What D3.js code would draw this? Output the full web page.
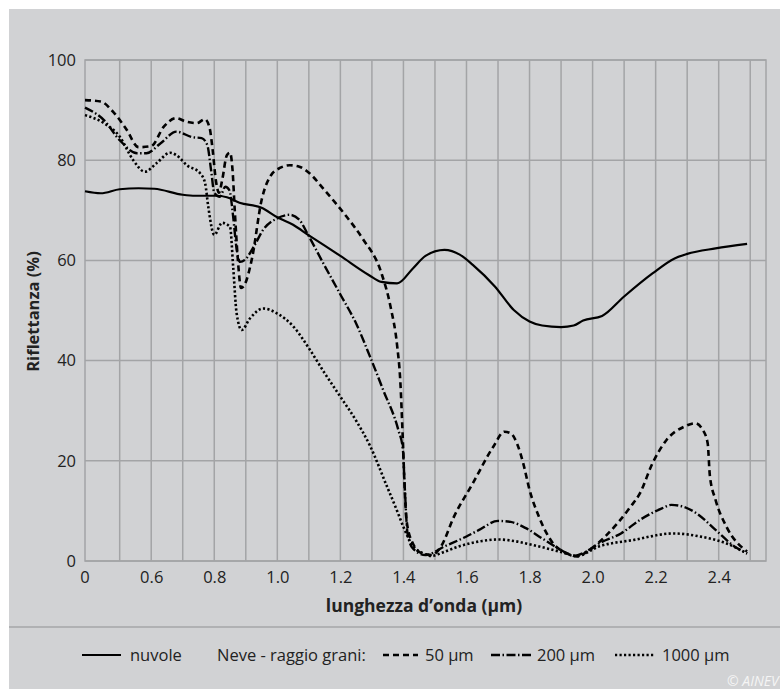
<!DOCTYPE html>
<html>
<head>
<meta charset="utf-8">
<script src="https://cdn.jsdelivr.net/npm/d3@7"></script>
<style>
  html, body { margin: 0; padding: 0; background: #ffffff; }
  svg { display: block; }
  text { font-family: "Open Sans", "Noto Sans", sans-serif; fill: #222; }
</style>
</head>
<body>
<svg id="chart" width="780" height="689"></svg>
<script>
// Spectral reflectance (%) versus wavelength (µm)
const nuvole = [[0.39,73.8],[0.44,73.4],[0.50,74.2],[0.56,74.4],[0.61,74.3],[0.70,73.1],[0.74,72.9],[0.81,72.9],[0.84,72.6],[0.88,71.5],[0.95,70.5],[1.00,68.6],[1.05,67.1],[1.10,65.0],[1.20,60.9],[1.29,57.1],[1.33,55.7],[1.38,55.4],[1.43,58.4],[1.47,60.9],[1.53,62.1],[1.58,61.1],[1.62,59.1],[1.69,54.8],[1.75,50.1],[1.80,47.8],[1.84,47.0],[1.90,46.7],[1.94,47.0],[1.97,48.0],[2.03,48.9],[2.10,52.8],[2.19,57.4],[2.26,60.4],[2.30,61.3],[2.39,62.4],[2.49,63.3]];

const neve50 = [[0.39,92.0],[0.44,91.7],[0.48,89.6],[0.52,86.3],[0.56,82.6],[0.60,82.8],[0.64,86.7],[0.68,88.4],[0.71,87.7],[0.745,87.4],[0.77,88.2],[0.785,86.5],[0.795,82],[0.805,76],[0.815,73.5],[0.825,76],[0.84,81],[0.85,81.5],[0.858,78],[0.865,70],[0.875,60],[0.885,54.5],[0.895,55],[0.92,60.5],[0.95,72],[0.98,77],[1.01,78.5],[1.04,79],[1.07,78.7],[1.10,77.5],[1.15,74],[1.22,68.7],[1.27,64.4],[1.33,57.5],[1.36,50.5],[1.38,43],[1.39,36],[1.397,26],[1.403,16],[1.41,8],[1.43,3.5],[1.46,1.5],[1.49,1.2],[1.52,3.0],[1.56,8.8],[1.62,15.5],[1.685,22.8],[1.72,25.8],[1.74,25.5],[1.76,23.5],[1.78,19.5],[1.80,14.2],[1.83,8.8],[1.875,3.5],[1.92,1.5],[1.95,0.9],[1.99,2.2],[2.04,4.9],[2.12,10.8],[2.15,13.5],[2.19,19.5],[2.235,24.2],[2.29,26.8],[2.325,27.5],[2.35,26.1],[2.365,23.5],[2.372,17],[2.39,12.2],[2.425,6.8],[2.49,1.9]];

const neve200 = [[0.39,90.5],[0.45,88.0],[0.50,84.0],[0.555,81.4],[0.585,81.4],[0.63,83.4],[0.68,85.7],[0.73,84.6],[0.76,84.4],[0.778,83],[0.79,78],[0.80,73.5],[0.818,72.7],[0.835,74.7],[0.848,74],[0.86,68.7],[0.87,62.7],[0.882,59.7],[0.897,60.1],[0.925,62.7],[0.955,66.1],[1.0,68.4],[1.04,69.1],[1.07,68.1],[1.095,65.4],[1.146,59.4],[1.2,53.2],[1.25,47.4],[1.294,40.8],[1.336,34.1],[1.384,26.1],[1.398,22.5],[1.404,15],[1.413,5.5],[1.43,2.5],[1.47,1.2],[1.53,2.9],[1.60,4.9],[1.64,6.2],[1.70,8.0],[1.74,7.8],[1.79,6.5],[1.84,4.5],[1.90,2.2],[1.94,1.0],[1.98,1.9],[2.02,3.5],[2.09,5.5],[2.15,8.2],[2.22,10.5],[2.25,11.2],[2.29,10.8],[2.33,9.5],[2.39,6.2],[2.45,2.9],[2.49,1.5]];

const neve1000 = [[0.39,89.0],[0.45,87.4],[0.50,84.7],[0.543,80.0],[0.58,77.7],[0.617,79.4],[0.66,81.5],[0.68,81.0],[0.713,79.0],[0.755,77.4],[0.771,75.4],[0.781,70.7],[0.80,65.1],[0.825,67.5],[0.85,66.7],[0.86,58.7],[0.871,49.4],[0.887,46.1],[0.913,48.4],[0.955,50.4],[1.0,49.4],[1.051,46.8],[1.104,42.1],[1.15,37.5],[1.2,32.8],[1.25,28],[1.294,23],[1.347,15],[1.38,10],[1.40,6.8],[1.43,3],[1.46,1.6],[1.49,1.0],[1.52,1.6],[1.58,3.0],[1.65,4.0],[1.70,4.3],[1.75,4.0],[1.81,3.2],[1.90,1.8],[1.95,1.0],[2.02,2.9],[2.13,4.2],[2.256,5.5],[2.34,4.9],[2.425,3.5],[2.49,1.5]];

const xTickValues = [0.6, 0.8, 1.0, 1.2, 1.4, 1.6, 1.8, 2.0, 2.2, 2.4];
const xGridValues = [0.5, 0.6, 0.7, 0.8, 0.9, 1.0, 1.1, 1.2, 1.3, 1.4, 1.5, 1.6, 1.7, 1.8, 1.9, 2.0, 2.1, 2.2, 2.3, 2.4, 2.5];
const yTickValues = [0, 20, 40, 60, 80, 100];
const xOriginLabel = "0";

const seriesNames = ["nuvole", "50 µm", "200 µm", "1000 µm"];

const svg = d3.select("#chart");
const bg = "#d1d2d4";
const gridColor = "#a3a4a6";

// panel background
svg.append("rect").attr("x", 9).attr("y", 9).attr("width", 771).attr("height", 680).attr("fill", bg);

const plotLeft = 85, plotRight = 766, plotTop = 60, plotBottom = 561;
const x = d3.scaleLinear().domain([0.39, 2.55]).range([plotLeft, plotRight]);
const y = d3.scaleLinear().domain([0, 100]).range([plotBottom, plotTop]);

// grid
const grid = svg.append("g");
grid.selectAll(".gx").data(xGridValues).join("line")
  .attr("x1", d => x(d)).attr("x2", d => x(d))
  .attr("y1", y(100)).attr("y2", y(0))
  .attr("stroke", gridColor).attr("stroke-width", 1.5);
grid.selectAll(".gy").data(yTickValues).join("line")
  .attr("x1", plotLeft).attr("x2", plotRight)
  .attr("y1", d => y(d)).attr("y2", d => y(d))
  .attr("stroke", gridColor).attr("stroke-width", 1.5);
grid.append("rect").attr("x", plotLeft).attr("y", y(100))
  .attr("width", plotRight - plotLeft).attr("height", y(0) - y(100))
  .attr("fill", "none").attr("stroke", gridColor).attr("stroke-width", 1.5);

// axes (labels only, lines come from the grid)
const xAxis = d3.axisBottom(x).tickValues(xTickValues).tickFormat(d3.format(".1f")).tickSize(0).tickPadding(10);
const gx = svg.append("g").attr("transform", `translate(0,${plotBottom})`).call(xAxis);
gx.select(".domain").remove();
gx.selectAll("text").attr("font-size", 16.5).attr("fill", "#222").attr("font-family", "Open Sans, sans-serif");
svg.append("text").attr("x", x.range()[0]).attr("y", plotBottom + 22)
  .attr("text-anchor", "middle").attr("font-size", 16.5).text(xOriginLabel);

const yAxis = d3.axisLeft(y).tickValues(yTickValues).tickFormat(d3.format("d")).tickSize(0).tickPadding(9);
const gy = svg.append("g").attr("transform", `translate(${plotLeft},0)`).call(yAxis);
gy.select(".domain").remove();
gy.selectAll("text").attr("font-size", 16.5).attr("fill", "#222").attr("font-family", "Open Sans, sans-serif");

// axis titles
svg.append("text").attr("x", 424).attr("y", 612).attr("text-anchor", "middle")
  .attr("font-size", 17.5).attr("font-weight", "bold").text("lunghezza d’onda (µm)");
svg.append("text").attr("transform", `translate(39,${(plotTop + plotBottom) / 2 + 1}) rotate(-90)`)
  .attr("text-anchor", "middle").attr("font-size", 16.5).attr("font-weight", "bold").text("Riflettanza (%)");

// series
const styles = [
  { dash: null, width: 2.2 },
  { dash: "6,4", width: 2.6 },
  { dash: "9,2.5,1.5,2.5", width: 2.4 },
  { dash: "2.2,2.3", width: 2.6 }
];
const line = d3.line().x(d => x(d[0])).y(d => y(d[1])).curve(d3.curveMonotoneX);
const allSeries = [nuvole, neve50, neve200, neve1000];
svg.append("g").selectAll("path").data(allSeries).join("path")
  .attr("d", line)
  .attr("fill", "none")
  .attr("stroke", "#000")
  .attr("stroke-width", (d, i) => styles[i].width)
  .attr("stroke-dasharray", (d, i) => styles[i].dash)
  .attr("stroke-linejoin", "round");

// legend separator
svg.append("line").attr("x1", 9).attr("x2", 780).attr("y1", 627).attr("y2", 627)
  .attr("stroke", "#a5a6a8").attr("stroke-width", 1.5);

// legend
const ly = 655;
const legendItems = [
  { x0: 82, x1: 121, tx: 130, i: 0 },
  { x0: 383, x1: 418, tx: 425, i: 1 },
  { x0: 491, x1: 531, tx: 537, i: 2 },
  { x0: 615, x1: 655, tx: 662, i: 3 }
];
const lg = svg.append("g");
lg.selectAll("line").data(legendItems).join("line")
  .attr("x1", d => d.x0).attr("x2", d => d.x1).attr("y1", ly).attr("y2", ly)
  .attr("stroke", "#000")
  .attr("stroke-width", d => styles[d.i].width)
  .attr("stroke-dasharray", d => styles[d.i].dash);
lg.selectAll("text").data(legendItems).join("text")
  .attr("x", d => d.tx).attr("y", ly + 6).attr("font-size", 16.5)
  .text(d => seriesNames[d.i]);
lg.append("text").attr("x", 217).attr("y", ly + 6).attr("font-size", 16.5).text("Neve - raggio grani:");

// credit
svg.append("text").attr("x", 727).attr("y", 686).attr("font-size", 14)
  .attr("font-style", "italic").style("fill", "#f5f5f5").text("© AINEV");
</script>
</body>
</html>
